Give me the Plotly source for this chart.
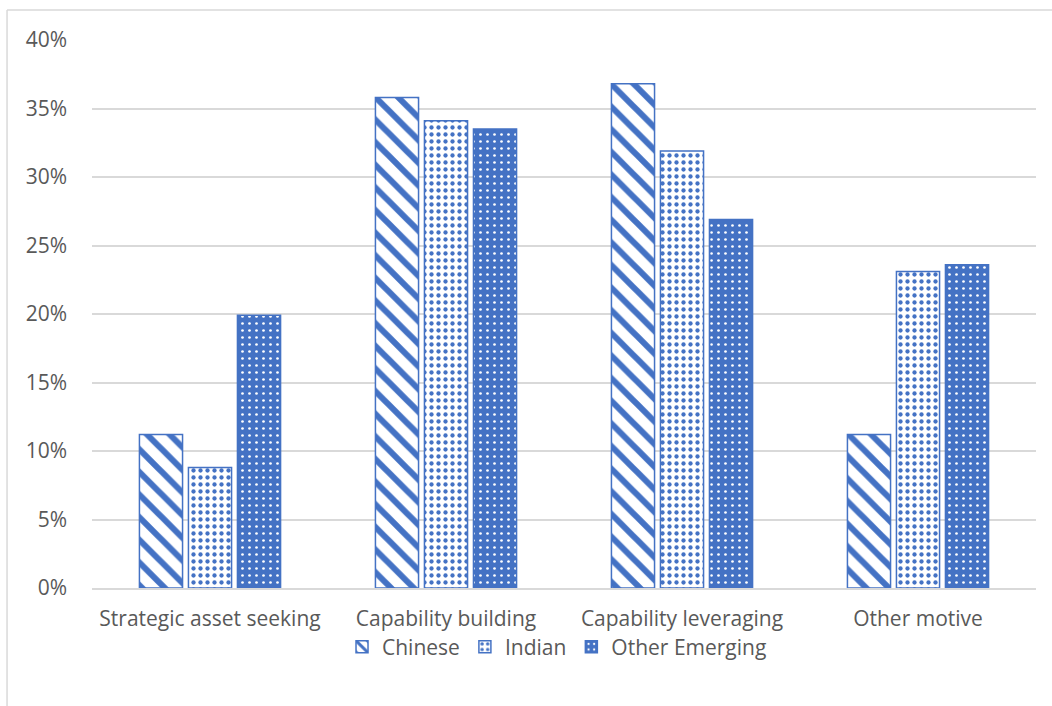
import plotly.graph_objects as go

categories = ["Strategic asset seeking", "Capability building", "Capability leveraging", "Other motive"]
chinese = [0.112, 0.358, 0.368, 0.112]
indian = [0.088, 0.341, 0.319, 0.231]
other_emerging = [0.199, 0.335, 0.269, 0.236]

BLUE = "#4472C4"
TEXT = "#595959"
GRID = "#D9D9D9"

fig = go.Figure()
fig.add_trace(go.Bar(
    name="Chinese", x=categories, y=chinese,
    marker=dict(color="white", line=dict(color=BLUE, width=1.5),
                pattern=dict(shape="\\", fgcolor=BLUE, bgcolor="white", fgopacity=1,
                             size=16, solidity=0.38, fillmode="overlay")),
))
fig.add_trace(go.Bar(
    name="Indian", x=categories, y=indian,
    marker=dict(color="white", line=dict(color=BLUE, width=1.5),
                pattern=dict(shape=".", fgcolor=BLUE, bgcolor="white", fgopacity=1,
                             size=7, solidity=0.3, fillmode="overlay")),
))
fig.add_trace(go.Bar(
    name="Other Emerging", x=categories, y=other_emerging,
    marker=dict(color=BLUE, line=dict(color=BLUE, width=1.5),
                pattern=dict(shape=".", fgcolor="white", bgcolor=BLUE, fgopacity=1,
                             size=7, solidity=0.12, fillmode="overlay")),
))

# chart frame (top and left edges)
fig.add_shape(type="line", xref="paper", yref="paper",
              x0=-0.09, x1=1.03, y0=1.0547, y1=1.0547,
              line=dict(color=GRID, width=1.5))
fig.add_shape(type="line", xref="paper", yref="paper",
              x0=-0.09, x1=-0.09, y0=1.0547, y1=-0.23,
              line=dict(color=GRID, width=1.5))

fig.update_layout(
    width=1052, height=706,
    margin=dict(l=92, r=16, t=40, b=118),
    paper_bgcolor="white", plot_bgcolor="white",
    font=dict(family="Open Sans", size=21, color=TEXT),
    barmode="group", bargap=0.377, bargroupgap=0.12,
    showlegend=True,
    legend=dict(orientation="h", x=0.4926, xanchor="center",
                y=-0.1077, yanchor="middle", font=dict(size=21, color=TEXT),
                bgcolor="rgba(0,0,0,0)", itemwidth=30, traceorder="normal"),
    xaxis=dict(showgrid=False, showline=True, linecolor=GRID, linewidth=1.5,
               ticks="", ticklabelstandoff=11),
    yaxis=dict(range=[0, 0.40], dtick=0.05, tickformat=".0%",
               showgrid=True, gridcolor=GRID, gridwidth=1.5,
               zeroline=False, showline=False, ticks="",
               ticklabelstandoff=24),
)

fig.write_html("out.html")
